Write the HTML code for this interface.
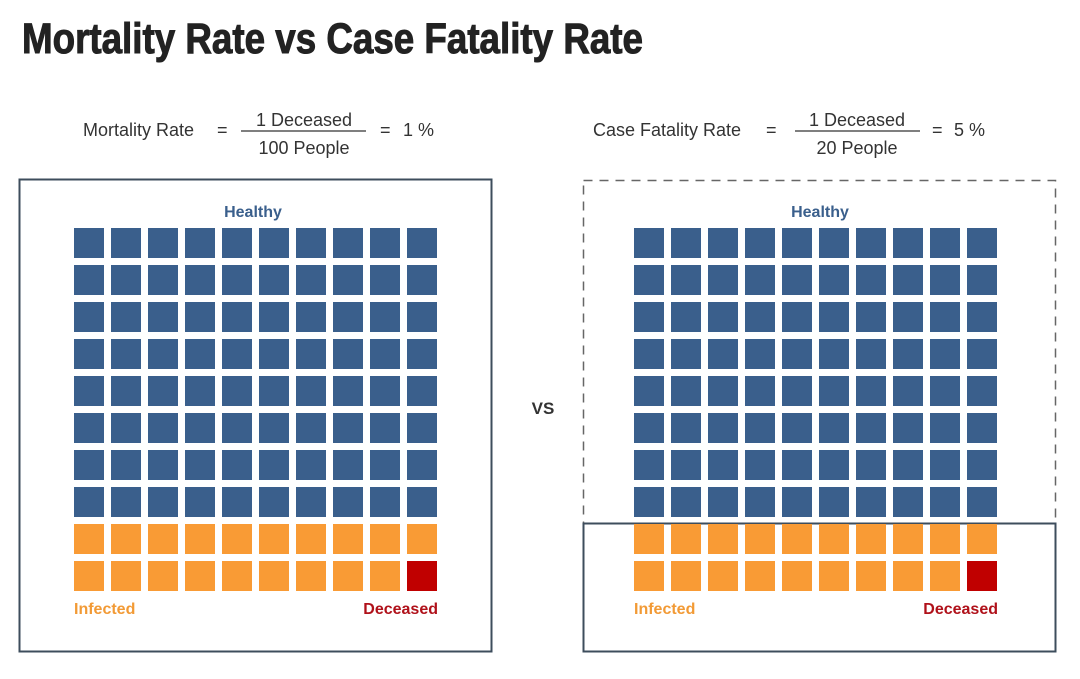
<!DOCTYPE html>
<html><head><meta charset="utf-8"><style>
body{margin:0;background:#fff;width:1080px;height:679px;overflow:hidden}
svg{display:block;font-family:"Liberation Sans",sans-serif}
</style></head><body>
<svg id="s" width="1080" height="679">
<text x="22" y="53" font-family="Liberation Sans Narrow, Liberation Sans, sans-serif" font-weight="bold" font-size="43" fill="#222" stroke="#222" stroke-width="1" textLength="621" lengthAdjust="spacingAndGlyphs">Mortality Rate vs Case Fatality Rate</text>
<g font-size="18" fill="#333">
<text x="83" y="136">Mortality Rate</text>
<text x="217" y="136">=</text>
<text x="304" y="126" text-anchor="middle">1 Deceased</text>
<line x1="241" y1="131" x2="366" y2="131" stroke="#333" stroke-width="1.2"/>
<text x="304" y="154" text-anchor="middle">100 People</text>
<text x="380" y="136">=</text>
<text x="403" y="136">1 %</text>
</g>
<g font-size="18" fill="#333">
<text x="593" y="136">Case Fatality Rate</text>
<text x="766" y="136">=</text>
<text x="857" y="126" text-anchor="middle">1 Deceased</text>
<line x1="795" y1="131" x2="920" y2="131" stroke="#333" stroke-width="1.2"/>
<text x="857" y="154" text-anchor="middle">20 People</text>
<text x="932" y="136">=</text>
<text x="954" y="136">5 %</text>
</g>
<rect x="19.5" y="179.5" width="472" height="472" fill="none" stroke="#3d4d5c" stroke-width="2"/>
<rect x="583.5" y="180.5" width="472" height="343" fill="none" stroke="#666" stroke-width="1.5" stroke-dasharray="9,7"/>
<rect x="583.5" y="523.5" width="472" height="128" fill="none" stroke="#3d4d5c" stroke-width="2"/>
<text x="543" y="414" text-anchor="middle" font-size="17" font-weight="bold" fill="#333">VS</text>
<text x="253" y="217" text-anchor="middle" font-size="16" font-weight="bold" fill="#3a5f8c">Healthy</text>
<text x="820" y="217" text-anchor="middle" font-size="16" font-weight="bold" fill="#3a5f8c">Healthy</text>
<text x="74" y="614" font-size="16" font-weight="bold" fill="#f29a35">Infected</text>
<text x="634" y="614" font-size="16" font-weight="bold" fill="#f29a35">Infected</text>
<text x="438" y="614" text-anchor="end" font-size="16" font-weight="bold" fill="#b0111a">Deceased</text>
<text x="998" y="614" text-anchor="end" font-size="16" font-weight="bold" fill="#b0111a">Deceased</text>
</svg>
<script>
const total = 100;
const healthyCount = 80;
const infectedCount = 19;
const deceasedCount = 1;
const gridOrigins = [74, 634];
const colors = {h:'#3a5f8c', i:'#f99b35', d:'#c00000'};
const s = document.getElementById('s');
gridOrigins.forEach((x0, g) => {
  for (let k = 0; k < total; k++) {
    const r = Math.floor(k / 10), c = k % 10;
    const type = k < healthyCount ? 'h' : (k < healthyCount + infectedCount ? 'i' : 'd');
    const el = document.createElementNS('http://www.w3.org/2000/svg', 'rect');
    el.setAttribute('x', x0 + c * 37);
    el.setAttribute('y', 228 + r * 37);
    el.setAttribute('width', 30);
    el.setAttribute('height', 30);
    el.setAttribute('fill', colors[type]);
    
    
    s.appendChild(el);
  }
});
</script>
</body></html>
